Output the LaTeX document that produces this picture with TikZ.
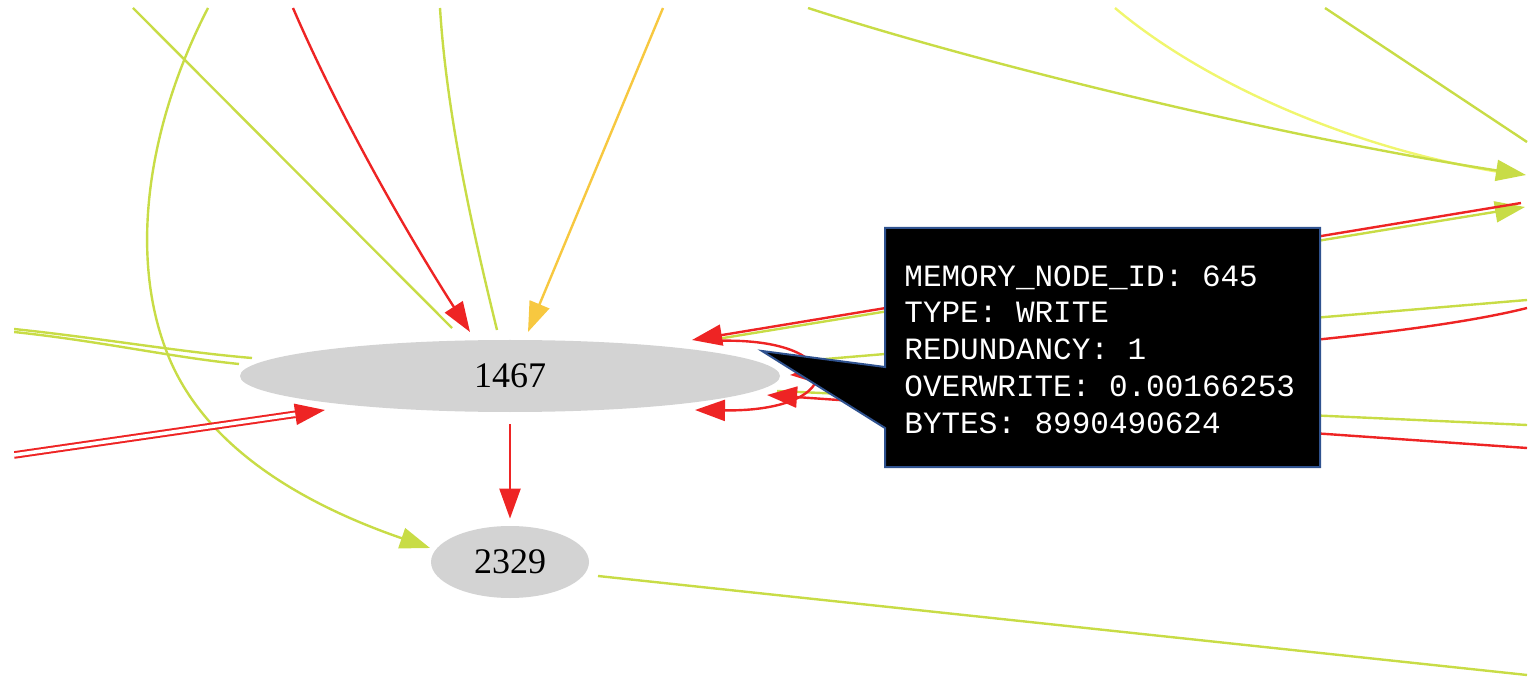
\documentclass[tikz,border=0pt]{standalone}
\usepackage{fontspec}
\setmainfont{Liberation Serif}
\newfontfamily\tipfont{Liberation Mono}
\usetikzlibrary{arrows.meta,shapes.geometric,calc}

\definecolor{edgegreen}{RGB}{200,220,70}
\definecolor{edgered}{RGB}{238,36,36}
\definecolor{edgeorange}{RGB}{247,200,64}
\definecolor{edgeyellow}{RGB}{240,246,110}
\definecolor{nodegray}{RGB}{211,211,211}
\definecolor{tipborder}{RGB}{47,82,143}

\tikzset{
  graphnode/.style={ellipse, fill=nodegray, inner sep=0pt,
    font=\fontsize{18}{20}\selectfont},
  gline/.style={draw=edgegreen, line width=1.2pt},
  rline/.style={draw=edgered, line width=1.2pt},
  oline/.style={draw=edgeorange, line width=1.2pt},
  yline/.style={draw=edgeyellow, line width=1.2pt},
  headed/.style={-{Triangle[length=15pt,width=10.5pt]}},
  twin/.style={double=white, double distance=1.8pt, line width=1pt},
  infobox/.style={fill=black, draw=tipborder, line width=1pt, line join=miter},
  infotext/.style={anchor=north west, inner sep=0pt, text=white, align=left,
    font=\tipfont\fontsize{15.5}{18.4}\selectfont}
}

\begin{document}
\begin{tikzpicture}[x=0.5pt,y=-0.5pt]
\useasboundingbox (0,0) rectangle (1530,678);
\begin{scope}
\clip (14,8) rectangle (1528,677);

% graph nodes
\node[graphnode, minimum width=270pt, minimum height=36pt] (n1467) at (510,376) {1467};
\node[graphnode, minimum width=79pt, minimum height=36pt] (n2329) at (510,562) {2329};

% ends of edges leaving the view
\coordinate (t1) at (133,8);
\coordinate (t2) at (208,8);
\coordinate (t3) at (293,8);
\coordinate (t4) at (440,8);
\coordinate (t5) at (663,8);
\coordinate (t6) at (808,8);
\coordinate (t7) at (1115,8);
\coordinate (t8) at (1325,8);
\coordinate (l1) at (14,329);
\coordinate (l2) at (14,332);
\coordinate (l3) at (14,455);
\coordinate (r1) at (1527,142);
\coordinate (r2) at (1526,175);
\coordinate (r2y) at (1512,174);
\coordinate (r3) at (1521,203);
\coordinate (r4) at (1525,207);
\coordinate (r5) at (1527,300);
\coordinate (r6) at (1527,308);
\coordinate (r7) at (1527,425);
\coordinate (r8) at (1527,448);
\coordinate (r9) at (1527,675);

% edge ends next to the nodes
\coordinate (a1) at (452,328);
\coordinate (a2) at (470,332);
\coordinate (a3) at (497,330);
\coordinate (a4) at (528,332);
\coordinate (a5) at (252,358);
\coordinate (a6) at (239,364);
\coordinate (a7) at (325,410);
\coordinate (a8) at (692,340);
\coordinate (a9) at (705,341);
\coordinate (a10) at (790,362);
\coordinate (a11) at (790,375);
\coordinate (a12) at (777,391);
\coordinate (a13) at (767,395);
\coordinate (a14) at (712,341);
\coordinate (a15) at (695,410);
\coordinate (b1) at (430,548);
\coordinate (b2) at (598,576);

% edges at the top
\draw[gline] (t1) -- (a1);
\draw[gline, headed] (t2) .. controls (150,120) and (128,250) .. (166,350)
  .. controls (205,455) and (320,510) .. (b1);
\draw[rline, headed] (t3) .. controls (350,140) and (430,270) .. (a2);
\draw[gline] (t4) .. controls (447,120) and (475,240) .. (a3);
\draw[oline, headed] (t5) -- (a4);

% edges on the left
\draw[gline] (l1) .. controls (100,338) and (180,352) .. (a5);
\draw[gline] (l2) .. controls (100,341) and (170,357) .. (a6);
\draw[rline, headed] ($(a7)!20pt!(l3)$) -- (a7);
\draw[rline, twin, shorten >=15pt] (l3) -- (a7);

% 1467 -> 2329 and 2329 -> right
\draw[rline, headed, shorten <=6pt, shorten >=3.5pt] (n1467.south) -- (n2329.north);
\draw[gline] (b2) -- (r9);

% edges on the right
\draw[yline] (t7) .. controls (1200,80) and (1350,150) .. (r2y);
\draw[gline, headed] (t6) .. controls (1000,70) and (1300,140) .. (r2);
\draw[gline] (t8) -- (r1);
\draw[gline, headed] (a9) -- (r4);
\draw[rline, headed] (r3) -- (a8);
\draw[gline] (a10) -- (r5);
\draw[rline, headed] (r6) .. controls (1400,340) and (1100,360) .. (a11);
\draw[gline] (r7) -- (a12);
\draw[rline, headed] (r8) -- (a13);
\draw[rline, headed] (a14) .. controls (850,335) and (850,412) .. (a15);

% tooltip with its pointer
\draw[infobox] (885,228) -- (1320,228) -- (1320,467) -- (885,467) -- (885,428)
  -- (762,351) -- (885,367) -- cycle;
\node[infotext] (info) at (904,265) {MEMORY\_NODE\_ID: 645\\TYPE: WRITE\\REDUNDANCY: 1\\OVERWRITE: 0.00166253\\BYTES: 8990490624};
\end{scope}
\end{tikzpicture}
\end{document}
